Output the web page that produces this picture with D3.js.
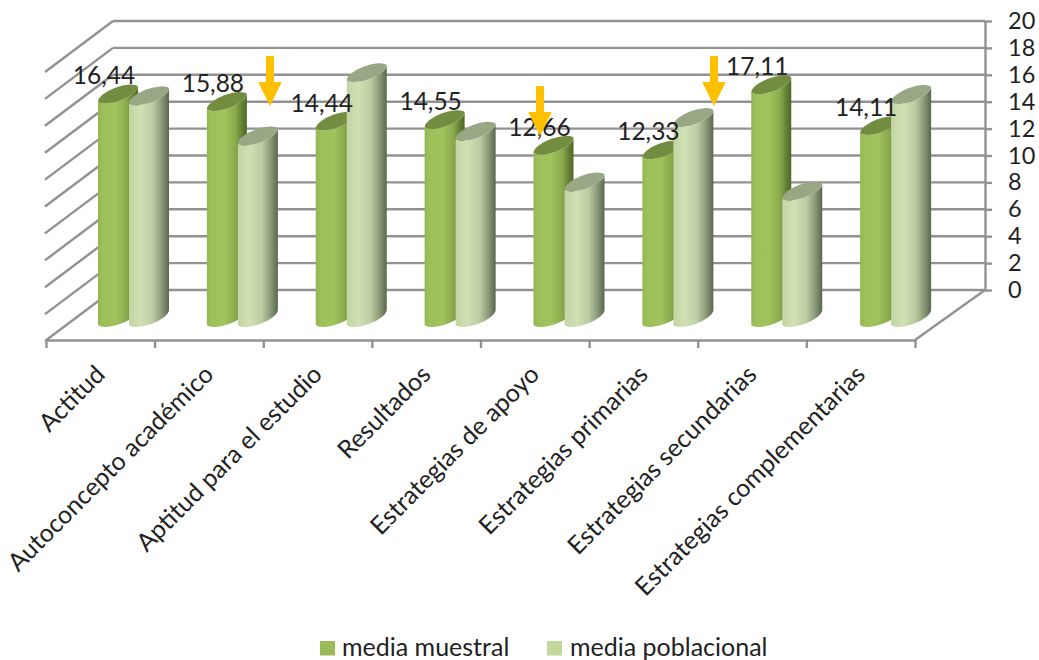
<!DOCTYPE html>
<html>
<head>
<meta charset="utf-8">
<script src="https://cdnjs.cloudflare.com/ajax/libs/d3/7.8.5/d3.min.js"></script>
<style>
html,body{margin:0;padding:0;background:#fff;overflow:hidden}
text{font-family:Lato,"Open Sans",sans-serif;fill:#222}
</style>
</head>
<body>
<script>
const categories = ["Actitud","Autoconcepto académico","Aptitud para el estudio","Resultados","Estrategias de apoyo","Estrategias primarias","Estrategias secundarias","Estrategias complementarias"];
const mediaMuestral = [16.44,15.88,14.44,14.55,12.66,12.33,17.11,14.11];
const mediaPoblacional = [16.3,13.35,18.0,13.7,9.96,14.7,9.3,16.4];
const seriesNames = ["media muestral","media poblacional"];
const yTicks = [0,2,4,6,8,10,12,14,16,18,20];
const arrowCategoryGaps = [2,5,7];

const W=1039,H=660, GRID="#929292";
const svg=d3.select("body").append("svg").attr("width",W).attr("height",H).style("display","block");
const defs=svg.append("defs");
function grad(id,stops){
  const g=defs.append("linearGradient").attr("id",id).attr("x1",0).attr("x2",1).attr("y1",0).attr("y2",0);
  stops.forEach(s=>g.append("stop").attr("offset",s[0]).attr("stop-color",s[1]));
}
grad("gGreen",[[0,"#93b752"],[.12,"#9dc05a"],[.45,"#a0c35c"],[.72,"#8aa94c"],[.88,"#637f34"],[1,"#4f6729"]]);
grad("gLight",[[0,"#c3d5a3"],[.3,"#d0e0b4"],[.6,"#bccca3"],[.82,"#8a9a78"],[1,"#5a664e"]]);

// scales
const y=d3.scaleLinear().domain([0,20]).range([290,21]);         // back wall
const yBar=d3.scaleLinear().domain([0,20]).range([317.5,45.5]);  // bar mid-depth plane
const xTick=d3.scaleLinear().domain([0,categories.length]).range([46,915]);
const xBand=d3.scaleBand().domain(categories).range([47,918]);
const dx=-68, dy=51, backL=113, backR=985;

// side-wall and back-wall grid
const grid=svg.append("g").attr("stroke",GRID).attr("stroke-width",2.4).attr("fill","none");
grid.selectAll(".b").data(yTicks).join("line").attr("class","b").attr("x1",backL).attr("x2",backR).attr("y1",d=>y(d)).attr("y2",d=>y(d));
grid.selectAll(".s").data(yTicks).join("line").attr("class","s").attr("x1",backL).attr("x2",backL+dx).attr("y1",d=>y(d)).attr("y2",d=>y(d)+dy);
grid.append("line").attr("x1",backR).attr("y1",y(0)).attr("x2",915).attr("y2",340);

// axes
const yAxis=d3.axisRight(y).tickValues(yTicks).tickSize(7).tickPadding(16).tickSizeOuter(0);
const gy=svg.append("g").attr("transform",`translate(${backR},0)`).call(yAxis);
gy.selectAll("path,line").attr("stroke",GRID).attr("stroke-width",2.4);
gy.selectAll("text").attr("font-size",23.5).style("font-family","Lato");

const xAxis=d3.axisBottom(xTick).tickValues(d3.range(categories.length+1)).tickFormat("").tickSize(8).tickSizeOuter(0);
const gx=svg.append("g").attr("transform","translate(0,340)").call(xAxis);
gx.selectAll("path,line").attr("stroke",GRID).attr("stroke-width",2.4);

// category labels
svg.append("g").selectAll("text").data(categories).join("text")
  .attr("text-anchor","end").attr("font-size",25)
  .attr("transform",(d,i)=>`translate(${xTick(i+0.5)+6},376) rotate(-45)`)
  .text(d=>d);

// cylinders
const BW=40, SK=7.5, RX=21.6, RY=8, ROT=-20, LIGHT_OFF=31, GREEN_OFF=51;
const baseY=yBar(0);
function sidePath(l,v){
  const t=yBar(v),r=l+BW;
  return `M${l},${t+SK}L${l},${baseY+SK}A${RX},${RY} ${ROT} 0 0 ${r},${baseY-SK}L${r},${t-SK}A${RX},${RY} ${ROT} 0 1 ${l},${t+SK}Z`;
}
function capPath(l,v){
  const t=yBar(v),r=l+BW;
  return `M${l},${t+SK}A${RX},${RY} ${ROT} 0 1 ${r},${t-SK}A${RX},${RY} ${ROT} 0 1 ${l},${t+SK}Z`;
}
const bars=svg.append("g");
categories.forEach((c,i)=>{
  const lg=xBand(c)+GREEN_OFF, ll=lg+LIGHT_OFF;
  bars.append("path").attr("d",sidePath(lg,mediaMuestral[i])).attr("fill","url(#gGreen)");
  bars.append("path").attr("d",capPath(lg,mediaMuestral[i])).attr("fill","#738d40");
  bars.append("path").attr("d",sidePath(ll,mediaPoblacional[i])).attr("fill","url(#gLight)");
  bars.append("path").attr("d",capPath(ll,mediaPoblacional[i])).attr("fill","#98a784");
});

// data labels
svg.append("g").selectAll("text").data(mediaMuestral).join("text")
  .attr("font-size",24.5).attr("text-anchor","middle")
  .attr("x",(d,i)=>xBand(categories[i])+GREEN_OFF+6)
  .attr("y",d=>yBar(d)-9.5)
  .text(d=>d.toFixed(2).replace(".",","));

// arrows (annotations over the chart)
const arrowTops=[56,86,56];
const arrowShape=d3.line()([[-4,0],[4,0],[4,26],[11.8,26],[0,50],[-11.8,26],[-4,26]])+"Z";
svg.append("g").selectAll("path").data(arrowCategoryGaps).join("path")
  .attr("d",arrowShape).attr("fill","#ffc000")
  .attr("transform",(d,i)=>`translate(${[270,540,714][i]},${arrowTops[i]})`);

// legend
const legend=svg.append("g");
[[320,342,"#9bbb59"],[547,570,"#c3d69b"]].forEach((p,i)=>{
  legend.append("rect").attr("x",p[0]).attr("y",641).attr("width",15).attr("height",14.5).attr("fill",p[2]);
  legend.append("text").attr("x",p[1]).attr("y",656).attr("font-size",25).text(seriesNames[i]);
});
</script>
</body>
</html>
